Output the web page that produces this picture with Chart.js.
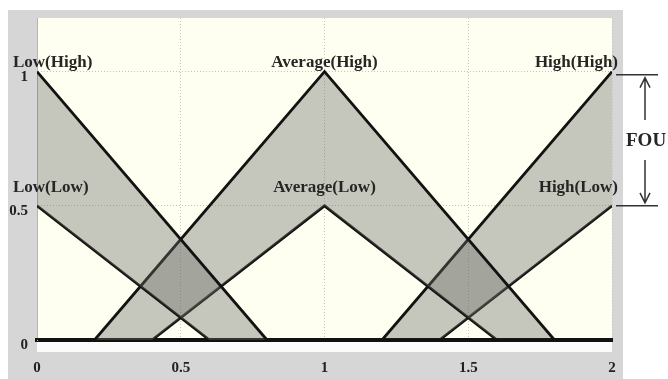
<!DOCTYPE html>
<html lang="en">
<head>
<meta charset="UTF-8">
<title>Interval type-2 membership functions</title>
<script src="https://cdn.jsdelivr.net/npm/chart.js"></script>
<style>
  body { margin: 0; background: #fff; }
  canvas { display: block; }
</style>
</head>
<body>
<canvas id="mfChart" width="668" height="379"></canvas>
<script>
  // breakpoints of each membership function over the universe [0, 2]
  const lowUpperX = [0, 0.8, 2];
  const lowUpperY = [1, 0, 0];
  const lowLowerX = [0, 0.6, 2];
  const lowLowerY = [0.5, 0, 0];
  const avgUpperX = [0, 0.2, 1, 1.8, 2];
  const avgUpperY = [0, 0, 1, 0, 0];
  const avgLowerX = [0, 0.4, 1, 1.6, 2];
  const avgLowerY = [0, 0, 0.5, 0, 0];
  const highUpperX = [0, 1.2, 2];
  const highUpperY = [0, 0, 1];
  const highLowerX = [0, 1.4, 2];
  const highLowerY = [0, 0, 0.5];

  const setNames = ["Low", "Average", "High"];
  const xTicks = [0, 0.5, 1, 1.5, 2];
  const yTicks = [0, 0.5, 1];

  const pts = (xs, ys) => xs.map((x, i) => ({ x: x, y: ys[i] }));

  const curves = [
    pts(lowUpperX, lowUpperY), pts(lowLowerX, lowLowerY),
    pts(avgUpperX, avgUpperY), pts(avgLowerX, avgLowerY),
    pts(highUpperX, highUpperY), pts(highLowerX, highLowerY)
  ];

  // upper MF fills down to its lower MF: that band is the FOU,
  // overlapping bands darken because the fill is translucent
  const datasets = curves.map((data, i) => ({
    data: data,
    borderColor: "#121212",
    borderWidth: 2.8,
    pointRadius: 0,
    tension: 0,
    fill: i % 2 === 0 ? { target: i + 1 } : false,
    backgroundColor: "rgba(108, 107, 102, 0.38)"
  }));

  const serif = '"Liberation Serif", "DejaVu Serif", serif';

  const framePlugin = {
    id: "frame",
    beforeDraw(chart) {
      const ctx = chart.ctx;
      const a = chart.chartArea;
      ctx.save();
      ctx.fillStyle = "#fff";
      ctx.fillRect(0, 0, chart.width, chart.height);
      ctx.fillStyle = "#d6d6d6";
      ctx.fillRect(8, 10, 615, chart.height - 10);
      ctx.fillStyle = "#fefff0";
      ctx.fillRect(a.left, a.top, a.right - a.left, a.bottom - a.top);
      ctx.fillStyle = "#fbfbfb";
      ctx.fillRect(a.left, a.bottom, a.right - a.left, 12);
      ctx.restore();
    }
  };

  const peakOf = data => data.reduce((m, p) => (p.y > m.y ? p : m), data[0]);

  const labelPlugin = {
    id: "mfLabels",
    afterDraw(chart) {
      const ctx = chart.ctx;
      const xs = chart.scales.x;
      const ys = chart.scales.y;
      ctx.save();
      ctx.fillStyle = "#262626";
      ctx.font = "bold 17px " + serif;
      ctx.textBaseline = "middle";
      setNames.forEach((name, i) => {
        [["High", 2 * i, 9], ["Low", 2 * i + 1, 18]].forEach(([kind, idx, lift]) => {
          const p = peakOf(curves[idx]);
          let px = xs.getPixelForValue(p.x);
          const py = ys.getPixelForValue(p.y) - lift;
          if (i === 0) { ctx.textAlign = "left"; px -= 24; }
          else if (i === setNames.length - 1) { ctx.textAlign = "right"; px += 6; }
          else { ctx.textAlign = "center"; }
          ctx.fillText(name + "(" + kind + ")", px, py);
        });
      });

      // footprint of uncertainty marker beside the High set
      const yTop = ys.getPixelForValue(peakOf(curves[4]).y) + 3;
      const yBot = ys.getPixelForValue(peakOf(curves[5]).y);
      const ax = 645;
      ctx.strokeStyle = "#333";
      ctx.lineWidth = 1.5;
      ctx.beginPath();
      ctx.moveTo(616, yTop); ctx.lineTo(658, yTop);
      ctx.moveTo(616, yBot); ctx.lineTo(658, yBot);
      ctx.moveTo(ax, yTop + 3); ctx.lineTo(ax, 120);
      ctx.moveTo(ax - 5, yTop + 13); ctx.lineTo(ax, yTop + 3); ctx.lineTo(ax + 5, yTop + 13);
      ctx.moveTo(ax, 160); ctx.lineTo(ax, yBot - 3);
      ctx.moveTo(ax - 5, yBot - 13); ctx.lineTo(ax, yBot - 3); ctx.lineTo(ax + 5, yBot - 13);
      ctx.stroke();
      ctx.font = "bold 19px " + serif;
      ctx.textAlign = "left";
      ctx.fillText("FOU", 626, 141);
      ctx.restore();
    }
  };

  new Chart(document.getElementById("mfChart"), {
    type: "line",
    data: { datasets: datasets },
    options: {
      responsive: false,
      animation: false,
      layout: { padding: { left: 0, right: 56, top: 18, bottom: 0 } },
      plugins: { legend: { display: false }, tooltip: { enabled: false } },
      scales: {
        x: {
          type: "linear",
          min: 0,
          max: 2,
          afterFit: s => { s.height = 39; },
          afterBuildTicks: s => { s.ticks = xTicks.map(v => ({ value: v })); },
          grid: { color: "#c4c4ba", drawTicks: false, lineWidth: 1 },
          border: { display: true, color: "#111", width: 4, dash: [1, 2] },
          ticks: {
            callback: v => String(v),
            padding: 19,
            color: "#222",
            font: { family: serif, size: 15, weight: "bold" }
          }
        },
        y: {
          min: 0,
          max: 1.2,
          afterFit: s => { s.width = 37; },
          afterBuildTicks: s => { s.ticks = yTicks.map(v => ({ value: v })); },
          grid: { color: "#c4c4ba", drawTicks: false, lineWidth: 1 },
          border: { display: true, color: "#b5b5b0", width: 1, dash: [1, 2] },
          ticks: {
            callback: v => String(v),
            padding: 9,
            labelOffset: 5,
            color: "#222",
            font: { family: serif, size: 15, weight: "bold" }
          }
        }
      }
    },
    plugins: [framePlugin, labelPlugin]
  });
</script>
</body>
</html>
